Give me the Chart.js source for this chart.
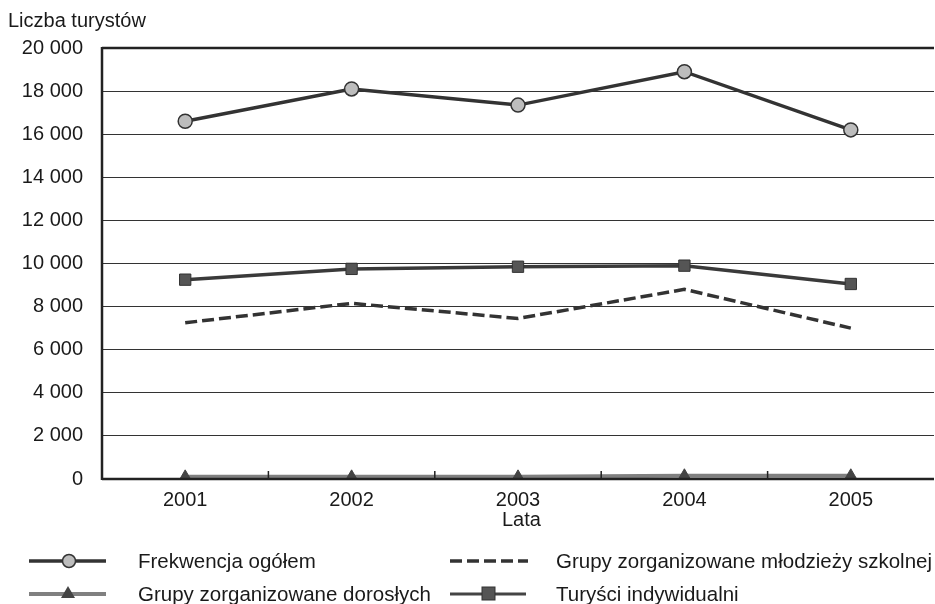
<!DOCTYPE html>
<html><head><meta charset="utf-8">
<script src="https://cdn.jsdelivr.net/npm/chart.js@4.4.0/dist/chart.umd.min.js"></script>
<style>
html,body{margin:0;padding:0;background:#fff;}
#wrap{position:relative;width:935px;height:604px;font-family:"Liberation Sans",Arial,sans-serif;color:#1a1a1a;}
#c{position:absolute;left:0;top:0;}
.t{position:absolute;font-size:20px;white-space:nowrap;line-height:23px;}
.lg{font-size:20.5px;}
svg{position:absolute;}
</style></head><body>
<div id="wrap">
<canvas id="c" width="935" height="604"></canvas>
<div class="t" style="left:8px;top:9px;">Liczba turystów</div>
<div class="t" style="left:502px;top:508px;">Lata</div>
<svg style="left:0;top:540px" width="935" height="64">
  <line x1="29" y1="21" x2="106" y2="21" stroke="#333" stroke-width="3.5"/>
  <circle cx="69" cy="21" r="6.5" fill="#bdbdbd" stroke="#333" stroke-width="1.5"/>
  <line x1="29" y1="54" x2="106" y2="54" stroke="#808080" stroke-width="4"/>
  <polygon points="68,46 75,58 61,58" fill="#444"/>
  <line x1="450" y1="21" x2="528" y2="21" stroke="#333" stroke-width="3.5" stroke-dasharray="12,5"/>
  <line x1="450" y1="54" x2="526" y2="54" stroke="#444" stroke-width="3"/>
  <rect x="482" y="47" width="13" height="13" fill="#555" stroke="#333" stroke-width="1"/>
</svg>
<div class="t lg" style="left:138px;top:549px;">Frekwencja ogółem</div>
<div class="t lg" style="left:138px;top:582px;">Grupy zorganizowane dorosłych</div>
<div class="t lg" style="left:556px;top:549px;">Grupy zorganizowane młodzieży szkolnej</div>
<div class="t lg" style="left:556px;top:582px;">Turyści indywidualni</div>
</div>
<script>
const categories = ["2001","2002","2003","2004","2005"];
const frekwencja = [16600, 18100, 17350, 18900, 16200];
const mlodziez = [7250, 8150, 7450, 8800, 7000];
const dorosli = [100, 100, 100, 150, 150];
const indywidualni = [9250, 9750, 9850, 9900, 9050];
const seriesLabels = ["Frekwencja ogółem","Grupy zorganizowane młodzieży szkolnej","Grupy zorganizowane dorosłych","Turyści indywidualni"];

const fmt = v => String(v).replace(/\B(?=(\d{3})+(?!\d))/g, " ");
const FONT = '"Liberation Sans", Arial, sans-serif';

const boxPlugin = {
  id: 'box',
  afterDatasetsDraw(chart){
    const {ctx, chartArea:a, scales:{x}} = chart;
    ctx.save();
    ctx.strokeStyle = '#222';
    ctx.lineWidth = 2.5;
    ctx.beginPath();
    ctx.moveTo(a.left, a.top); ctx.lineTo(a.right, a.top);
    ctx.moveTo(a.left, a.top-1); ctx.lineTo(a.left, a.bottom+1);
    ctx.moveTo(a.left, a.bottom); ctx.lineTo(a.right, a.bottom);
    ctx.stroke();
    ctx.lineWidth = 1.5;
    ctx.beginPath();
    for(let i=0;i<categories.length-1;i++){
      const px = (x.getPixelForValue(i)+x.getPixelForValue(i+1))/2;
      ctx.moveTo(px, a.bottom); ctx.lineTo(px, a.bottom-8);
    }
    ctx.stroke();
    ctx.restore();
  }
};

new Chart(document.getElementById('c'), {
  type: 'line',
  data: {
    labels: categories,
    datasets: [
      {label: seriesLabels[0], data: frekwencja, borderColor:'#333', borderWidth:3.5, pointStyle:'circle', pointRadius:7, pointBackgroundColor:'#bdbdbd', pointBorderColor:'#333', pointBorderWidth:1.5, tension:0},
      {label: seriesLabels[1], data: mlodziez, borderColor:'#333', borderWidth:3.5, borderDash:[12,5], pointRadius:0, tension:0},
      {label: seriesLabels[2], data: dorosli, borderColor:'#808080', borderWidth:4, pointStyle:'triangle', pointRadius:7, pointBackgroundColor:'#444', pointBorderColor:'#444', pointBorderWidth:1, tension:0},
      {label: seriesLabels[3], data: indywidualni, borderColor:'#3a3a3a', borderWidth:3.5, pointStyle:'rect', pointRadius:8, pointBackgroundColor:'#555', pointBorderColor:'#333', pointBorderWidth:1, tension:0}
    ]
  },
  options: {
    responsive:false, animation:false,
    layout:{autoPadding:false, padding:{top:48, right:1, left:0, bottom:0}},
    plugins:{legend:{display:false}, tooltip:{enabled:false}},
    scales:{
      x:{
        offset:true,
        grid:{display:false, drawTicks:false},
        border:{display:false},
        ticks:{color:'#1a1a1a', font:{family:FONT, size:20}, padding:9, maxRotation:0},
        afterFit(s){ s.height = 125; }
      },
      y:{
        min:0, max:20000,
        ticks:{stepSize:2000, color:'#1a1a1a', font:{family:FONT, size:20}, padding:19, callback:v=>fmt(v)},
        grid:{color:'#333', lineWidth:1, drawTicks:false},
        border:{display:false},
        afterFit(s){ s.width = 102; }
      }
    }
  },
  plugins:[boxPlugin]
});
</script>
</body></html>
